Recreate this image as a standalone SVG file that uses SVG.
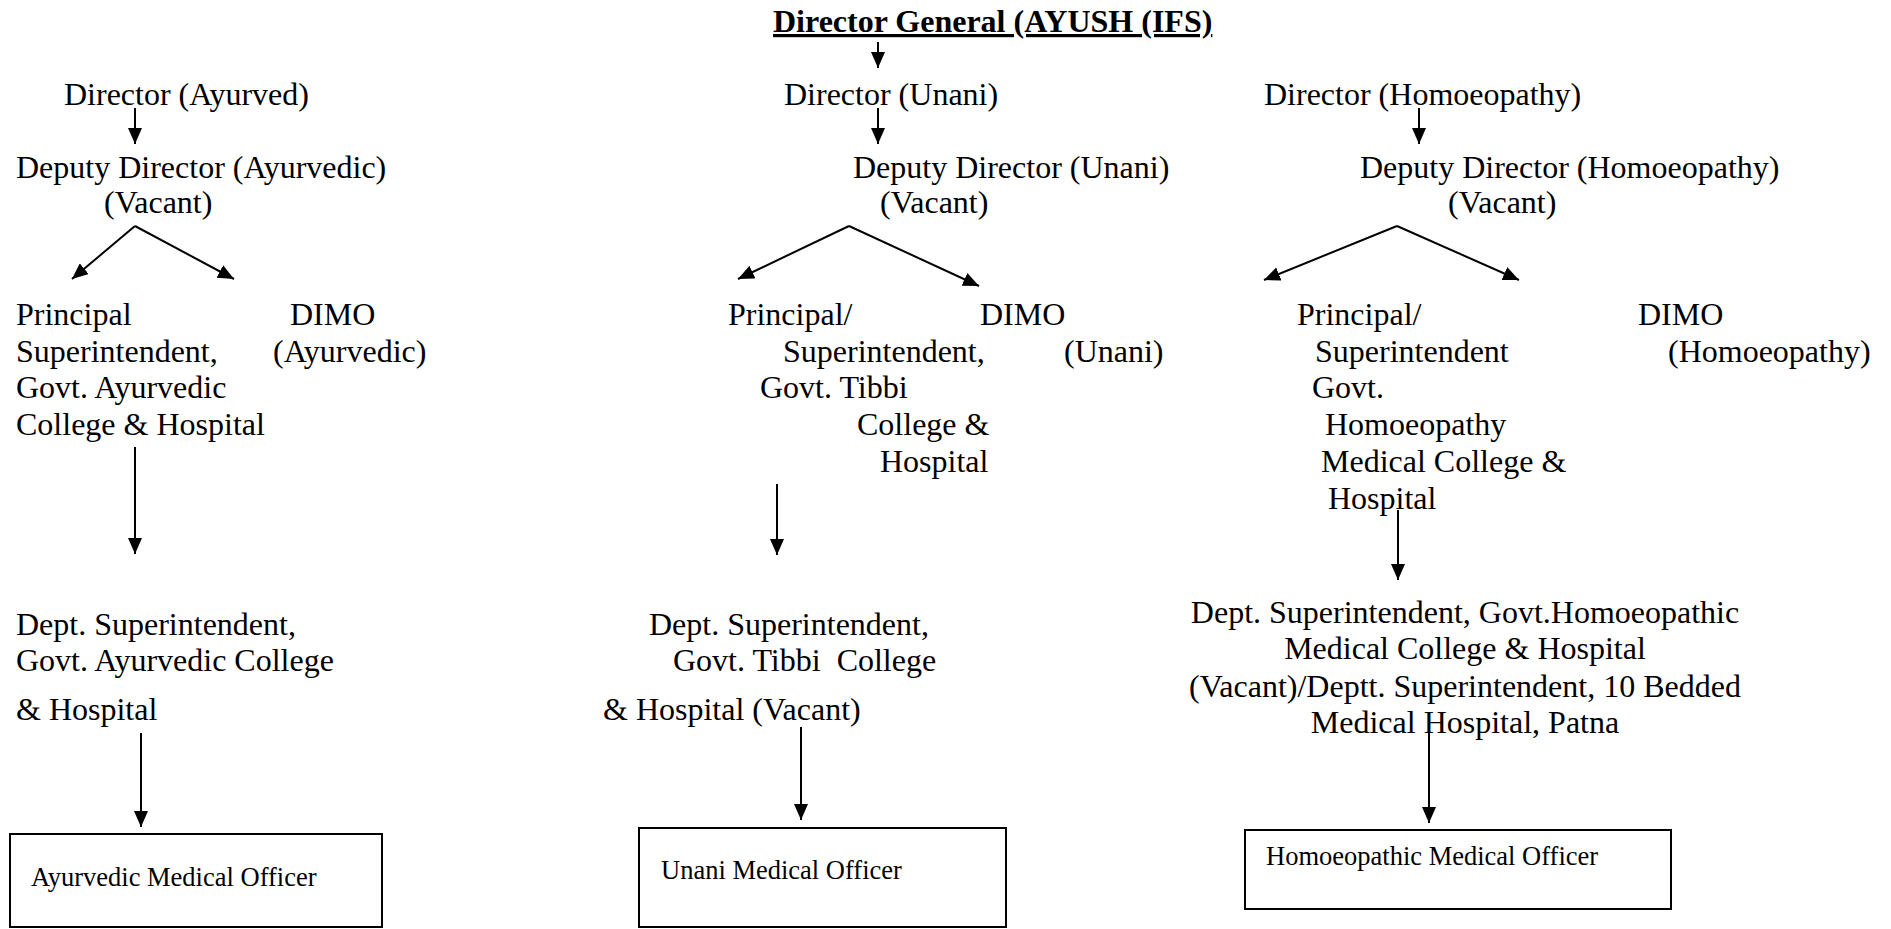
<svg xmlns="http://www.w3.org/2000/svg" width="1891" height="929" viewBox="0 0 1891 929">
<style>
text{font-family:"Liberation Serif","Times New Roman",serif;font-size:32px;fill:#000}
.title{font-weight:bold;text-decoration:underline}
.small{font-size:26.5px}
.mid{text-anchor:middle}
.ln{stroke:#000;stroke-width:2;fill:none}
.box{stroke:#000;stroke-width:2;fill:#fff}
</style>
<defs>
<marker id="ah" viewBox="0 0 16 14" refX="16" refY="7" markerWidth="16" markerHeight="14" markerUnits="userSpaceOnUse" orient="auto">
<path d="M0,0 L16,7 L0,14 Z" fill="#000"/>
</marker>
</defs>
<rect width="1891" height="929" fill="#fff"/>
<g id="connectors">
<line class="ln" x1="878" y1="42" x2="878" y2="68" marker-end="url(#ah)"/>
<line class="ln" x1="135" y1="108" x2="135" y2="144" marker-end="url(#ah)"/>
<line class="ln" x1="878" y1="108" x2="878" y2="144" marker-end="url(#ah)"/>
<line class="ln" x1="1419" y1="108" x2="1419" y2="144" marker-end="url(#ah)"/>
<line class="ln" x1="135" y1="226" x2="72" y2="279" marker-end="url(#ah)"/>
<line class="ln" x1="135" y1="226" x2="234" y2="279" marker-end="url(#ah)"/>
<line class="ln" x1="849" y1="226" x2="738" y2="279" marker-end="url(#ah)"/>
<line class="ln" x1="849" y1="226" x2="979" y2="286" marker-end="url(#ah)"/>
<line class="ln" x1="1397" y1="226" x2="1264" y2="280" marker-end="url(#ah)"/>
<line class="ln" x1="1397" y1="226" x2="1519" y2="280" marker-end="url(#ah)"/>
<line class="ln" x1="135" y1="447" x2="135" y2="554" marker-end="url(#ah)"/>
<line class="ln" x1="777" y1="484" x2="777" y2="555" marker-end="url(#ah)"/>
<line class="ln" x1="1398" y1="510" x2="1398" y2="580" marker-end="url(#ah)"/>
<line class="ln" x1="141" y1="733" x2="141" y2="827" marker-end="url(#ah)"/>
<line class="ln" x1="801" y1="727" x2="801" y2="820" marker-end="url(#ah)"/>
<line class="ln" x1="1429" y1="723" x2="1429" y2="823" marker-end="url(#ah)"/>
</g>
<g id="dg"><text class="title" x="773" y="32">Director General (AYUSH (IFS)</text></g>
<g id="dir-ayurved"><text x="64" y="105">Director (Ayurved)</text></g>
<g id="dir-unani"><text x="784" y="105">Director (Unani)</text></g>
<g id="dir-homoeo"><text x="1264" y="105">Director (Homoeopathy)</text></g>
<g id="dd-ayurved"><text x="16" y="178">Deputy Director (Ayurvedic)</text><text x="104" y="213">(Vacant)</text></g>
<g id="dd-unani"><text x="853" y="178">Deputy Director (Unani)</text><text x="880" y="213">(Vacant)</text></g>
<g id="dd-homoeo"><text x="1360" y="178">Deputy Director (Homoeopathy)</text><text x="1448" y="213">(Vacant)</text></g>
<g id="principal-ayurved">
<text x="16" y="325">Principal</text>
<text x="16" y="362">Superintendent,</text>
<text x="16" y="398">Govt. Ayurvedic</text>
<text x="16" y="435">College &amp; Hospital</text>
</g>
<g id="dimo-ayurved"><text x="290" y="325">DIMO</text><text x="273" y="362">(Ayurvedic)</text></g>
<g id="principal-unani">
<text x="728" y="325">Principal/</text>
<text x="783" y="362">Superintendent,</text>
<text x="760" y="398">Govt. Tibbi</text>
<text x="857" y="435">College &amp;</text>
<text x="880" y="472">Hospital</text>
</g>
<g id="dimo-unani"><text x="980" y="325">DIMO</text><text x="1064" y="362">(Unani)</text></g>
<g id="principal-homoeo">
<text x="1297" y="325">Principal/</text>
<text x="1315" y="362">Superintendent</text>
<text x="1312" y="398">Govt.</text>
<text x="1325" y="435">Homoeopathy</text>
<text x="1321" y="472">Medical College &amp;</text>
<text x="1328" y="509">Hospital</text>
</g>
<g id="dimo-homoeo"><text x="1638" y="325">DIMO</text><text x="1668" y="362">(Homoeopathy)</text></g>
<g id="ds-ayurved">
<text x="16" y="635">Dept. Superintendent,</text>
<text x="16" y="671">Govt. Ayurvedic College</text>
<text x="16" y="720">&amp; Hospital</text>
</g>
<g id="ds-unani">
<text x="649" y="635">Dept. Superintendent,</text>
<text x="673" y="671" xml:space="preserve">Govt. Tibbi  College</text>
<text x="603" y="720">&amp; Hospital (Vacant)</text>
</g>
<g id="ds-homoeo">
<text class="mid" x="1465" y="623">Dept. Superintendent, Govt.Homoeopathic</text>
<text class="mid" x="1465" y="659">Medical College &amp; Hospital</text>
<text class="mid" x="1465" y="697">(Vacant)/Deptt. Superintendent, 10 Bedded</text>
<text class="mid" x="1465" y="733">Medical Hospital, Patna</text>
</g>
<g id="mo-ayurved"><rect class="box" x="10" y="834" width="372" height="93"/><text class="small" x="31" y="886">Ayurvedic Medical Officer</text></g>
<g id="mo-unani"><rect class="box" x="639" y="828" width="367" height="99"/><text class="small" x="661" y="879">Unani Medical Officer</text></g>
<g id="mo-homoeo"><rect class="box" x="1245" y="830" width="426" height="79"/><text class="small" x="1266" y="865">Homoeopathic Medical Officer</text></g>
</svg>
